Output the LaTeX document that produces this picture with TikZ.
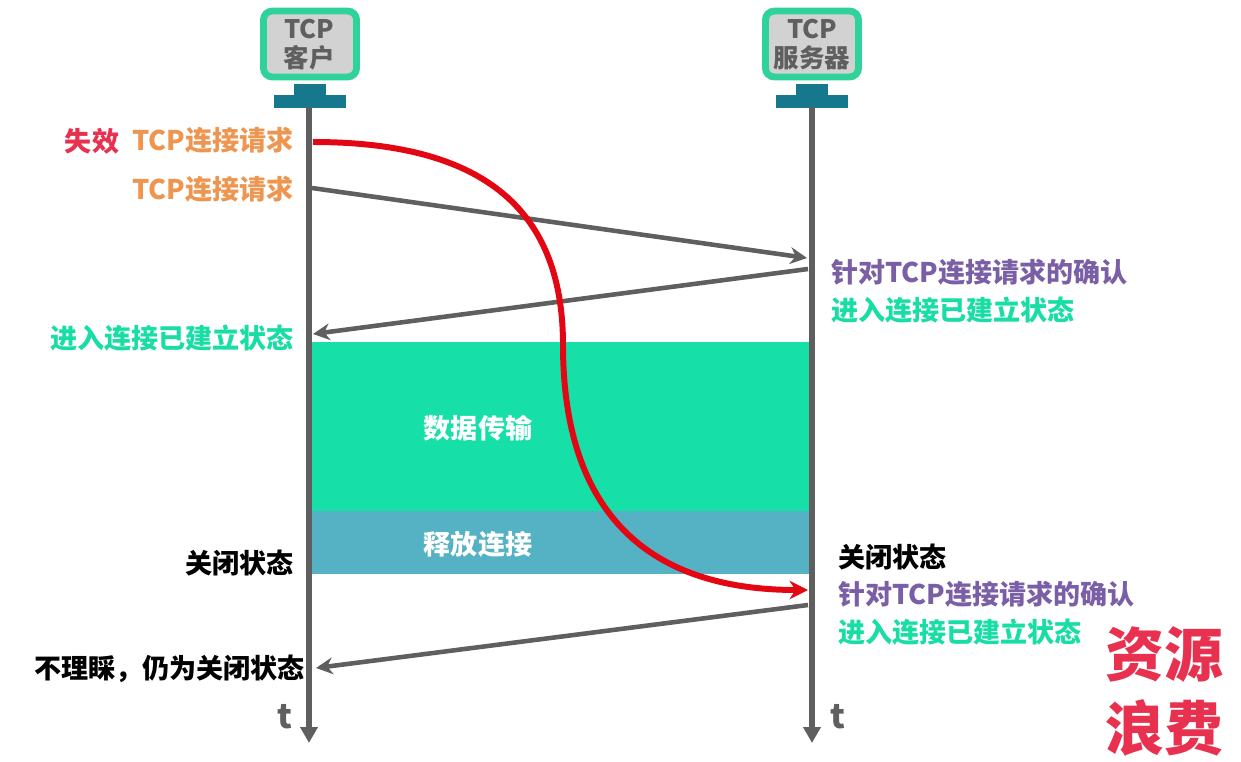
\documentclass[tikz,border=0pt]{standalone}
\usepackage{fontspec}
\usepackage{xcolor}
\usetikzlibrary{arrows.meta}
\setmainfont{Noto Sans CJK SC}
\definecolor{hostgreen}{HTML}{2FD39A}
\definecolor{hostgray}{HTML}{D2D2D2}
\definecolor{basecyan}{HTML}{15788C}
\definecolor{linegray}{HTML}{5F5F5F}
\definecolor{txtorange}{HTML}{EE9550}
\definecolor{txtpurple}{HTML}{7A5FA6}
\definecolor{txtgreen}{HTML}{18DDA4}
\definecolor{txtred}{HTML}{E8304F}
\definecolor{datagreen}{HTML}{16E0A8}
\definecolor{relblue}{HTML}{55B1C4}
\definecolor{curvered}{HTML}{E30613}
\tikzset{
    host/.style={draw=hostgreen,fill=hostgray,line width=3.9pt,rounded corners=5pt,minimum width=53pt,minimum height=37.5pt,inner sep=0pt},
    hostlabel/.style={text=linegray,font=\fontsize{14.5}{16}\bfseries,align=center,inner sep=0pt},
    baseblock/.style={fill=basecyan,inner sep=0pt},
    axisline/.style={draw=linegray,line width=3pt,-{Triangle[length=9pt,width=9.5pt]}},
    msg/.style={draw=linegray,line width=2.6pt,-{Stealth[length=9.5pt,width=9.5pt]}},
    lbl/.style={font=\fontsize{15.4}{17}\bfseries,inner sep=0pt},
    big/.style={text=txtred,font=\fontsize{33.5}{36}\bfseries,inner sep=0pt},
}
\begin{document}
\begin{tikzpicture}[x=0.02cm,y=-0.02cm]
    \useasboundingbox (0,0) rectangle (1241,761);

    % blocks
    \fill[datagreen] (311,342) rectangle (810,511);
    \fill[relblue] (311,511) rectangle (810,574);
    \node[lbl,text=white] (data) at (478,428) {数据传输};
    \node[lbl,text=white] (release) at (478,544) {释放连接};

    % client and server
    \node[host] (client) at (310,44) {};
    \node[host] (server) at (812,44) {};
    \node[hostlabel] (clienttcp) at (309,29) {TCP};
    \node[hostlabel] (clientname) at (309,58) {客户};
    \node[hostlabel] (servertcp) at (812,29) {TCP};
    \node[hostlabel] (servername) at (812,58) {服务器};
    \fill[basecyan] (294,84) rectangle (326,96);
    \fill[basecyan] (274,95) rectangle (346,108);
    \fill[basecyan] (796,84) rectangle (828,96);
    \fill[basecyan] (776,95) rectangle (848,108);

    % time lines
    \coordinate (ctop) at (309,107);
    \coordinate (cend) at (309,743);
    \coordinate (stop) at (812,107);
    \coordinate (send) at (812,743);
    \draw[axisline] (ctop) -- (cend);
    \draw[axisline] (stop) -- (send);
    \node[text=linegray,font=\fontsize{19}{20}\bfseries,inner sep=0pt] (tc) at (285,717) {t};
    \node[text=linegray,font=\fontsize{19}{20}\bfseries,inner sep=0pt] (ts) at (838,717) {t};

    % messages
    \coordinate (m1a) at (312,188);
    \coordinate (m1b) at (807,258);
    \coordinate (m2a) at (808,269);
    \coordinate (m2b) at (313,334);
    \coordinate (m3a) at (808,605);
    \coordinate (m3b) at (316,668);
    \draw[msg] (m1a) -- (m1b);
    \draw[msg] (m2a) -- (m2b);
    \draw[msg] (m3a) -- (m3b);

    % the stale request
    \coordinate (r1) at (313,142);
    \coordinate (r2) at (563,345);
    \coordinate (r3) at (808,590);
    \draw[curvered,line width=3.4pt,-{Stealth[length=10.5pt,width=10.5pt]}] (r1) .. controls (478,142) and (563,205) .. (r2) .. controls (563,482) and (620,590) .. (r3);

    % client side texts
    \node[lbl,anchor=east,text=txtorange] (req1) at (294,140) {TCP连接请求};
    \node[lbl,anchor=east,text=txtorange] (req2) at (294,189) {TCP连接请求};
    \node[lbl,text=txtred] (lost) at (92,141) {失效};
    \node[lbl,anchor=east,text=txtgreen] (cest) at (294,338) {进入连接已建立状态};
    \node[lbl,anchor=east,text=black] (cclosed) at (294,563) {关闭状态};
    \node[lbl,anchor=east,text=black] (cignore) at (305,669) {不理睬，仍为关闭状态};

    % server side texts
    \node[lbl,anchor=west,text=txtpurple] (ack1) at (831,272) {针对TCP连接请求的确认};
    \node[lbl,anchor=west,text=txtgreen] (sest1) at (831,310) {进入连接已建立状态};
    \node[lbl,anchor=west,text=black] (sclosed) at (838,557) {关闭状态};
    \node[lbl,anchor=west,text=txtpurple] (ack2) at (838,594) {针对TCP连接请求的确认};
    \node[lbl,anchor=west,text=txtgreen] (sest2) at (838,632) {进入连接已建立状态};
    \node[big] (waste1) at (1164,654) {资源};
    \node[big] (waste2) at (1164,728) {浪费};
\end{tikzpicture}
\end{document}
